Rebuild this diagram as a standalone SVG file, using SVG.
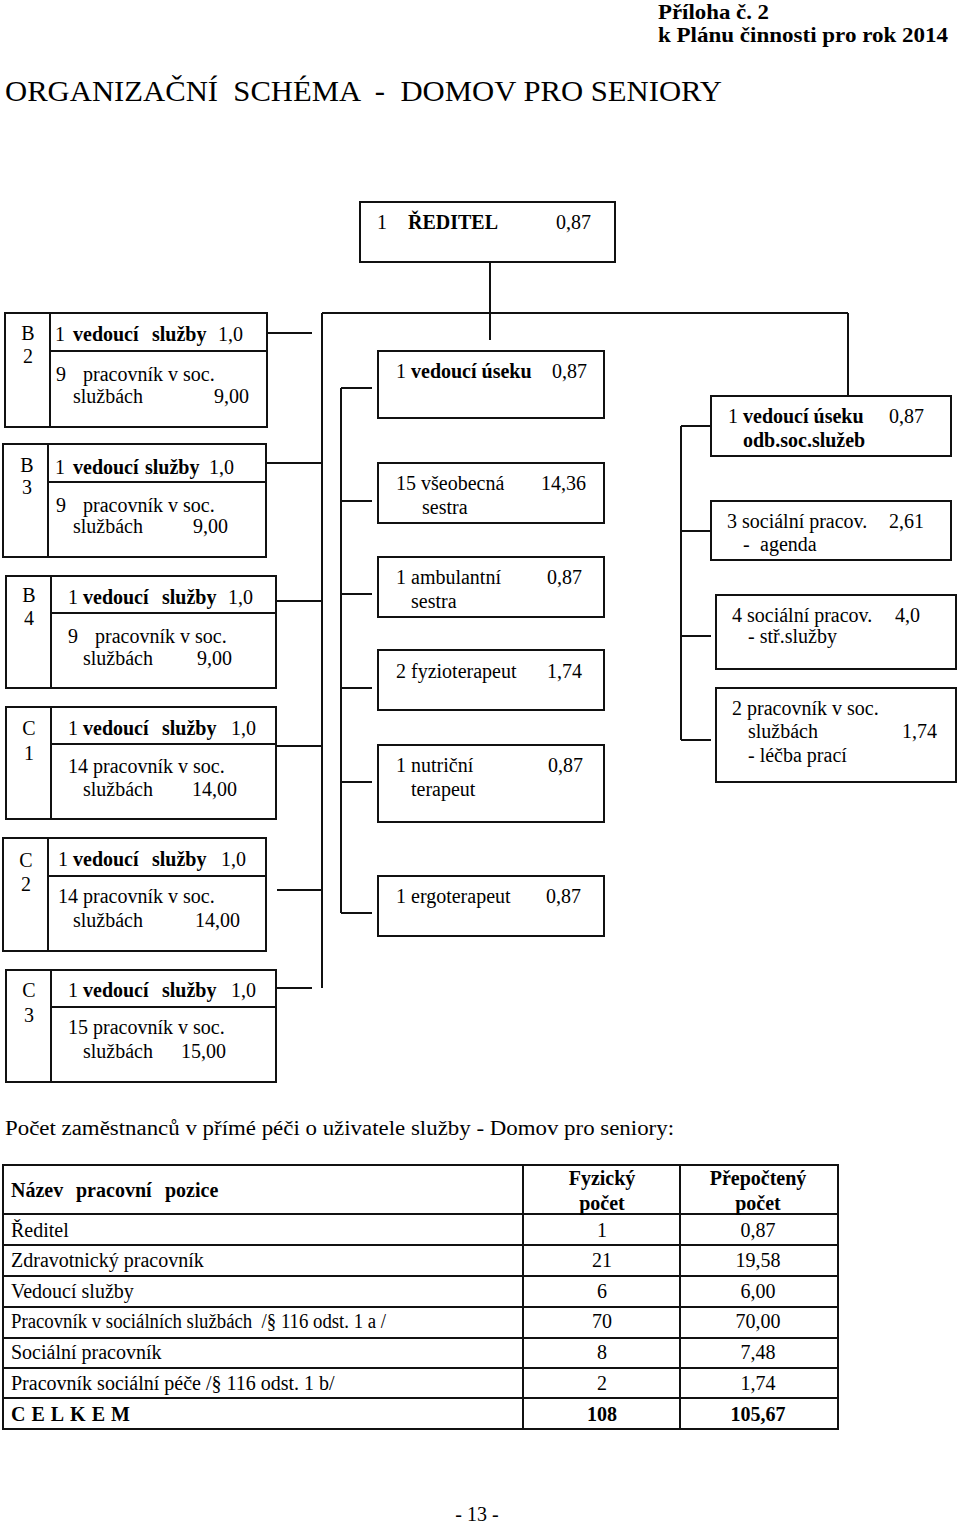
<svg xmlns="http://www.w3.org/2000/svg" width="960" height="1524" viewBox="0 0 960 1524">
<style>
text{font-family:"Liberation Serif","Times New Roman",serif;font-size:20px;fill:#000}
.b{font-weight:bold}
.box{fill:#fff;stroke:#111;stroke-width:2}
.ln{stroke:#111;stroke-width:2;fill:none}
.c{text-anchor:middle}
.e{text-anchor:end}
.hd{font-size:21px;font-weight:bold}
.tt{font-size:30px}
</style>
<rect width="960" height="1524" fill="#fff"/>
<g id="header">
<text class="hd" x="658" y="19" textLength="111" lengthAdjust="spacingAndGlyphs">Příloha č. 2</text>
<text class="hd" x="658" y="42" textLength="290" lengthAdjust="spacingAndGlyphs">k Plánu činnosti pro rok 2014</text>
<text class="tt" x="5" y="101" textLength="717" lengthAdjust="spacingAndGlyphs" style="white-space:pre">ORGANIZAČNÍ  SCHÉMA  -  DOMOV PRO SENIORY</text>
</g>
<g id="connectors">
<path class="ln" d="M490 262V340M322 313H848M322 313V988M848 313V396"/>
<path class="ln" d="M268 333H312M266 463H322M276 601H322M276 746H322M277 890H322M267 988H312"/>
<path class="ln" d="M341 388V913M341 388H372M341 501H372M341 594H372M341 688H372M341 782H372M341 913H372"/>
<path class="ln" d="M681 426V740M681 426H711M681 531H711M681 636H711M681 740H711"/>
</g>
<g id="director">
<rect class="box" x="360" y="202" width="255" height="60"/>
<text x="377" y="229">1<tspan class="b" x="408">ŘEDITEL</tspan><tspan x="556">0,87</tspan></text>
</g>
<g id="B2">
<rect class="box" x="5" y="313" width="262" height="114"/>
<path class="ln" d="M50 313V427M50 351H267"/>
<text class="c" x="28" y="340">B</text><text class="c" x="28" y="363">2</text>
<text x="55" y="341">1<tspan class="b" x="73">vedoucí</tspan><tspan class="b" x="152">služby</tspan><tspan x="218">1,0</tspan></text>
<text x="56" y="381">9<tspan x="83">pracovník v soc.</tspan></text>
<text x="73" y="403">službách</text><text class="e" x="249" y="403">9,00</text>
</g>
<g id="B3">
<rect class="box" x="3" y="444" width="263" height="113"/>
<path class="ln" d="M48 444V557M48 482H266"/>
<text class="c" x="27" y="472">B</text><text class="c" x="27" y="494">3</text>
<text x="55" y="474">1<tspan class="b" x="73">vedoucí</tspan><tspan class="b" x="145">služby</tspan><tspan x="209">1,0</tspan></text>
<text x="56" y="512">9<tspan x="83">pracovník v soc.</tspan></text>
<text x="73" y="533">službách</text><text class="e" x="228" y="533">9,00</text>
</g>
<g id="B4">
<rect class="box" x="6" y="576" width="270" height="112"/>
<path class="ln" d="M51 576V688M51 613H276"/>
<text class="c" x="29" y="602">B</text><text class="c" x="29" y="625">4</text>
<text x="68" y="604">1<tspan class="b" x="83">vedoucí</tspan><tspan class="b" x="162">služby</tspan><tspan x="228">1,0</tspan></text>
<text x="68" y="643">9<tspan x="95">pracovník v soc.</tspan></text>
<text x="83" y="665">službách</text><text class="e" x="232" y="665">9,00</text>
</g>
<g id="C1">
<rect class="box" x="6" y="707" width="270" height="112"/>
<path class="ln" d="M51 707V819M51 744H276"/>
<text class="c" x="29" y="735">C</text><text class="c" x="29" y="760">1</text>
<text x="68" y="735">1<tspan class="b" x="83">vedoucí</tspan><tspan class="b" x="162">služby</tspan><tspan x="231">1,0</tspan></text>
<text x="68" y="773">14 pracovník v soc.</text>
<text x="83" y="796">službách</text><text class="e" x="237" y="796">14,00</text>
</g>
<g id="C2">
<rect class="box" x="3" y="838" width="263" height="113"/>
<path class="ln" d="M48 838V951M48 876H266"/>
<text class="c" x="26" y="867">C</text><text class="c" x="26" y="891">2</text>
<text x="58" y="866">1<tspan class="b" x="73">vedoucí</tspan><tspan class="b" x="152">služby</tspan><tspan x="221">1,0</tspan></text>
<text x="58" y="903">14 pracovník v soc.</text>
<text x="73" y="927">službách</text><text class="e" x="240" y="927">14,00</text>
</g>
<g id="C3">
<rect class="box" x="6" y="970" width="270" height="112"/>
<path class="ln" d="M51 970V1082M51 1007H276"/>
<text class="c" x="29" y="997">C</text><text class="c" x="29" y="1022">3</text>
<text x="68" y="997">1<tspan class="b" x="83">vedoucí</tspan><tspan class="b" x="162">služby</tspan><tspan x="231">1,0</tspan></text>
<text x="68" y="1034">15 pracovník v soc.</text>
<text x="83" y="1058">službách</text><text class="e" x="226" y="1058">15,00</text>
</g>
<g id="M1">
<rect class="box" x="378" y="351" width="226" height="67"/>
<text x="396" y="378">1<tspan class="b" x="411">vedoucí úseku</tspan></text><text class="e" x="587" y="378">0,87</text>
</g>
<g id="M2">
<rect class="box" x="378" y="463" width="226" height="60"/>
<text x="396" y="490">15 všeobecná</text><text class="e" x="586" y="490">14,36</text>
<text x="422" y="514">sestra</text>
</g>
<g id="M3">
<rect class="box" x="378" y="557" width="226" height="60"/>
<text x="396" y="584">1 ambulantní</text><text class="e" x="582" y="584">0,87</text>
<text x="411" y="608">sestra</text>
</g>
<g id="M4">
<rect class="box" x="378" y="650" width="226" height="60"/>
<text x="396" y="678">2 fyzioterapeut</text><text class="e" x="582" y="678">1,74</text>
</g>
<g id="M5">
<rect class="box" x="378" y="745" width="226" height="77"/>
<text x="396" y="772">1 nutriční</text><text class="e" x="583" y="772">0,87</text>
<text x="411" y="796">terapeut</text>
</g>
<g id="M6">
<rect class="box" x="378" y="876" width="226" height="60"/>
<text x="396" y="903">1 ergoterapeut</text><text class="e" x="581" y="903">0,87</text>
</g>
<g id="R1">
<rect class="box" x="711" y="396" width="240" height="60"/>
<text x="728" y="423">1<tspan class="b" x="743">vedoucí úseku</tspan></text><text class="e" x="924" y="423">0,87</text>
<text class="b" x="743" y="447">odb.soc.služeb</text>
</g>
<g id="R2">
<rect class="box" x="711" y="501" width="240" height="59"/>
<text x="727" y="528">3 sociální pracov.</text><text class="e" x="924" y="528">2,61</text>
<text x="743" y="551">-<tspan x="760">agenda</tspan></text>
</g>
<g id="R3">
<rect class="box" x="716" y="595" width="240" height="74"/>
<text x="732" y="622">4 sociální pracov.</text><text class="e" x="920" y="622">4,0</text>
<text x="748" y="643">- stř.služby</text>
</g>
<g id="R4">
<rect class="box" x="716" y="688" width="240" height="94"/>
<text x="732" y="715">2 pracovník v soc.</text>
<text x="748" y="738">službách</text><text class="e" x="937" y="738">1,74</text>
<text x="748" y="762">- léčba prací</text>
</g>
<g id="table">
<text x="5" y="1135" textLength="669" lengthAdjust="spacingAndGlyphs">Počet zaměstnanců v přímé péči o uživatele služby - Domov pro seniory:</text>
<rect x="3" y="1165" width="835" height="264" fill="none" stroke="#111" stroke-width="2"/>
<path class="ln" d="M523 1165V1429M680 1165V1429M3 1214H838M3 1245H838M3 1276H838M3 1307H838M3 1338H838M3 1368H838M3 1398H838"/>
<text class="b" x="11" y="1197">Název<tspan x="76">pracovní</tspan><tspan x="165">pozice</tspan></text>
<text class="b c" x="602" y="1185">Fyzický</text><text class="b c" x="602" y="1210">počet</text>
<text class="b c" x="758" y="1185">Přepočtený</text><text class="b c" x="758" y="1210">počet</text>
<text x="11" y="1237">Ředitel</text><text class="c" x="602" y="1237">1</text><text class="c" x="758" y="1237">0,87</text>
<text x="11" y="1267">Zdravotnický pracovník</text><text class="c" x="602" y="1267">21</text><text class="c" x="758" y="1267">19,58</text>
<text x="11" y="1298">Vedoucí služby</text><text class="c" x="602" y="1298">6</text><text class="c" x="758" y="1298">6,00</text>
<text x="11" y="1328" textLength="375" lengthAdjust="spacingAndGlyphs" style="white-space:pre">Pracovník v sociálních službách  /§ 116 odst. 1 a /</text><text class="c" x="602" y="1328">70</text><text class="c" x="758" y="1328">70,00</text>
<text x="11" y="1359">Sociální pracovník</text><text class="c" x="602" y="1359">8</text><text class="c" x="758" y="1359">7,48</text>
<text x="11" y="1390">Pracovník sociální péče /§ 116 odst. 1 b/</text><text class="c" x="602" y="1390">2</text><text class="c" x="758" y="1390">1,74</text>
<text class="b" x="11" y="1421" letter-spacing="6">CELKEM</text><text class="b c" x="602" y="1421">108</text><text class="b c" x="758" y="1421">105,67</text>
</g>
<g id="footer">
<text class="c" x="477" y="1521">- 13 -</text>
</g>
</svg>
